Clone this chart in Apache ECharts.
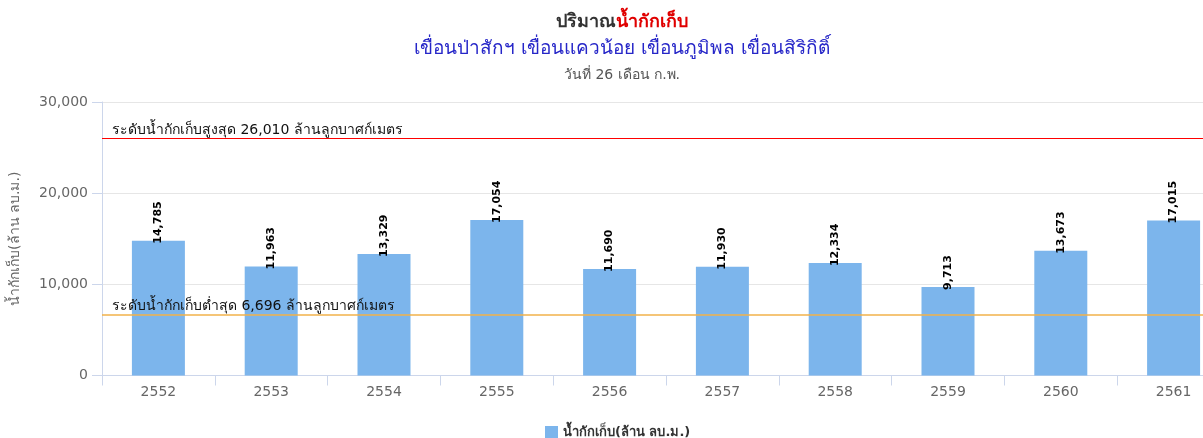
<!DOCTYPE html>
<html>
<head>
<meta charset="utf-8">
<script src="https://cdn.jsdelivr.net/npm/echarts@6/dist/echarts.min.js"></script>
<style>
html,body{margin:0;padding:0;background:#fff;overflow:hidden;}
#chart{width:1234px;height:438px;}
</style>
</head>
<body>
<div id="chart"></div>
<script>
const categories = ['2552','2553','2554','2555','2556','2557','2558','2559','2560','2561'];
const storage = [14785, 11963, 13329, 17054, 11690, 11930, 12334, 9713, 13673, 17015];
const yTicks = [0, 10000, 20000, 30000];
const maxLevel = 26010;
const minLevel = 6696;
const seriesName = 'น้ำกักเก็บ(ล้าน ลบ.ม.)';

const FONT = 'Tahoma, "DejaVu Sans", "Noto Sans", sans-serif';
const fmt = v => v.toLocaleString('en-US');

const chart = echarts.init(document.getElementById('chart'), null, {renderer: 'canvas'});
chart.setOption({
  animation: false,
  textStyle: {fontFamily: FONT},
  title: [
    {
      text: '{a|ปริมาณ}{b|น้ำกักเก็บ}',
      left: 617, top: 8, textAlign: 'center',
      textStyle: {rich: {
        a: {fontSize: 18, color: '#333', fontWeight: 'bold', fontFamily: FONT},
        b: {fontSize: 18, color: '#e00000', fontWeight: 'bold', fontFamily: FONT}
      }}
    },
    {
      text: 'เขื่อนป่าสักฯ เขื่อนแควน้อย เขื่อนภูมิพล เขื่อนสิริกิติ์',
      left: 617, top: 35, textAlign: 'center',
      textStyle: {fontSize: 19, color: '#2626c8', fontWeight: 'normal', fontFamily: FONT}
    },
    {
      text: 'วันที่ 26 เดือน ก.พ.',
      left: 617, top: 63, textAlign: 'center',
      textStyle: {fontSize: 14, color: '#555', fontWeight: 'normal', fontFamily: FONT}
    }
  ],
  legend: {
    left: 540, top: 421,
    icon: 'rect', itemWidth: 13, itemHeight: 13, itemGap: 8,
    textStyle: {fontSize: 13, color: '#333', fontWeight: 'bold', fontFamily: FONT},
    data: [seriesName]
  },
  grid: {left: 101, right: 4, top: 102, bottom: 62.5, containLabel: false},
  xAxis: {
    type: 'category',
    data: categories,
    axisLine: {lineStyle: {color: '#ccd6eb'}},
    axisTick: {show: true, length: 10, lineStyle: {color: '#ccd6eb'}},
    axisLabel: {fontSize: 14, color: '#666', margin: 10, fontFamily: FONT},
    splitLine: {show: false}
  },
  yAxis: {
    type: 'value',
    min: yTicks[0], max: yTicks[yTicks.length - 1], interval: 10000,
    name: 'น้ำกักเก็บ(ล้าน ลบ.ม.)',
    nameLocation: 'middle', nameGap: 80,
    nameTextStyle: {fontSize: 14, color: '#666', fontFamily: FONT},
    axisLine: {show: true, lineStyle: {color: '#ccd6eb'}},
    axisTick: {show: true, length: 10, lineStyle: {color: '#ccd6eb'}},
    axisLabel: {fontSize: 14, color: '#666', margin: 14, fontFamily: FONT, formatter: v => fmt(v)},
    splitLine: {lineStyle: {color: '#e6e6e6'}}
  },
  series: [{
    name: seriesName,
    type: 'bar',
    data: storage,
    barWidth: 53,
    itemStyle: {color: '#7cb5ec'},
    label: {
      show: true, position: 'top', rotate: 90, distance: -3,
      align: 'left', verticalAlign: 'middle',
      fontSize: 11, fontWeight: 'bold', color: '#000', fontFamily: FONT,
      formatter: p => fmt(p.value)
    },
    markLine: {
      silent: true, symbol: 'none', z: 10,
      label: {
        position: 'insideStartTop', distance: [10, 1],
        fontSize: 14, color: '#111', fontFamily: FONT
      },
      data: [
        {yAxis: maxLevel, lineStyle: {color: '#ff0000', width: 1, type: 'solid'},
         label: {formatter: 'ระดับน้ำกักเก็บสูงสุด ' + fmt(maxLevel) + ' ล้านลูกบาศก์เมตร'}},
        {yAxis: minLevel, lineStyle: {color: '#f2b24a', width: 1.5, type: 'solid'},
         label: {formatter: 'ระดับน้ำกักเก็บต่ำสุด ' + fmt(minLevel) + ' ล้านลูกบาศก์เมตร'}}
      ]
    }
  }]
});
</script>
</body>
</html>
